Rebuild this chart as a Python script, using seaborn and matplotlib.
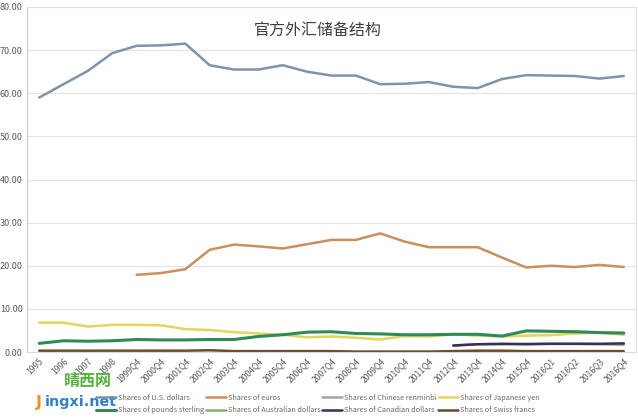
import numpy as np
import pandas as pd
import matplotlib
matplotlib.use("Agg")
import matplotlib.pyplot as plt
import seaborn as sns

nan = np.nan

periods = ["1995", "1996", "1997", "1998", "1999Q4", "2000Q4", "2001Q4", "2002Q4",
           "2003Q4", "2004Q4", "2005Q4", "2006Q4", "2007Q4", "2008Q4", "2009Q4",
           "2010Q4", "2011Q4", "2012Q4", "2013Q4", "2014Q4", "2015Q4", "2016Q1",
           "2016Q2", "2016Q3", "2016Q4"]

usd = [59.0, 62.1, 65.2, 69.3, 71.0, 71.1, 71.5, 66.5, 65.5, 65.5, 66.5, 65.0, 64.1,
       64.1, 62.1, 62.2, 62.6, 61.5, 61.2, 63.3, 64.2, 64.1, 64.0, 63.4, 64.0]
eur = [nan, nan, nan, nan, 17.9, 18.3, 19.2, 23.7, 24.9, 24.5, 24.0, 25.0, 26.0,
       26.0, 27.5, 25.6, 24.3, 24.3, 24.3, 21.9, 19.6, 20.0, 19.7, 20.2, 19.7]
cny = [nan] * 24 + [1.1]
jpy = [6.8, 6.8, 5.9, 6.3, 6.3, 6.2, 5.3, 5.1, 4.6, 4.3, 4.0, 3.4, 3.6, 3.3, 2.9,
       3.7, 3.6, 4.1, 3.8, 3.6, 3.8, 3.9, 4.3, 4.5, 4.0]
gbp = [2.0, 2.6, 2.5, 2.6, 2.9, 2.8, 2.8, 2.9, 2.9, 3.6, 4.0, 4.6, 4.7, 4.3, 4.2,
       4.0, 4.0, 4.1, 4.1, 3.7, 4.9, 4.8, 4.7, 4.5, 4.4]
aud = [nan] * 17 + [1.5, 1.8, 1.8, 1.9, 1.9, 1.9, 1.8, 1.7]
cad = [nan] * 17 + [1.5, 1.8, 1.9, 1.8, 1.9, 1.9, 1.9, 2.0]
chf = [0.3, 0.3, 0.3, 0.3, 0.3, 0.3, 0.3, 0.4, 0.2, 0.2, 0.2, 0.2, 0.2, 0.1, 0.1,
       0.1, 0.1, 0.2, 0.3, 0.3, 0.2, 0.2, 0.2, 0.2, 0.2]

names = ["Shares of U.S. dollars", "Shares of euros", "Shares of Chinese renminbi",
         "Shares of Japanese yen", "Shares of pounds sterling",
         "Shares of Australian dollars", "Shares of Canadian dollars",
         "Shares of Swiss francs"]
series = [usd, eur, cny, jpy, gbp, aud, cad, chf]
colors = ["#7f93aa", "#c98f5c", "#a5a5a5", "#e3d55a", "#2e8b57", "#7fb26a",
          "#3c2d5c", "#6b4a2b"]

x = np.arange(len(periods))
rows = []
for n, s in zip(names, series):
    for xi, v in zip(x, s):
        rows.append({"x": xi, "share": v, "currency": n})
df = pd.DataFrame(rows).dropna()

sns.set_style("white")
plt.rcParams["font.family"] = ["Noto Sans CJK SC", "DejaVu Sans"]

fig = plt.figure(figsize=(6.38, 4.20), dpi=100)
ax = fig.add_axes([27 / 638, 1 - 352 / 420, 609 / 638, 345 / 420])

# USD drawn last so it sits on top
draw_order = [n for n in names if n != "Shares of U.S. dollars"] + ["Shares of U.S. dollars"]
for n in draw_order:
    sub = df[df["currency"] == n]
    lw = 2.2 if n == "Shares of pounds sterling" else 1.8
    sns.lineplot(data=sub, x="x", y="share", color=colors[names.index(n)],
                 linewidth=lw, ax=ax, label=n, legend=False)

ax.set_xlim(-0.5, len(periods) - 0.5)
ax.set_ylim(0, 80)
ax.set_yticks(np.arange(0, 81, 10))
ax.set_yticklabels([f"{v:.2f}" for v in np.arange(0, 81, 10)], fontsize=6.5,
                   color="#595959")
ax.set_xticks(x)
ax.set_xticklabels(periods, rotation=45, ha="right", rotation_mode="anchor",
                   fontsize=6.2, color="#595959")
ax.tick_params(axis="both", length=0, pad=3)
ax.set_xlabel("")
ax.set_ylabel("")
ax.grid(axis="y", color="#e4e4e4", linewidth=0.8)
for side in ["top", "right"]:
    ax.spines[side].set_color("#e0e0e0")
ax.spines["left"].set_color("#c8c8c8")
ax.spines["bottom"].set_color("#d9d9d9")

ax.text(0.478, 0.93, "官方外汇储备结构", transform=ax.transAxes, ha="center",
        va="center", fontsize=11.5, color="#404040")

# legend: row-wise order for 4 columns
handles = {l.get_label(): l for l in ax.get_lines()}
order = [0, 4, 1, 5, 2, 6, 3, 7]
fig.legend([handles[names[i]] for i in order], [names[i] for i in order],
           loc="center", bbox_to_anchor=(318 / 638, 1 - 404 / 420), ncol=4,
           fontsize=5.3, frameon=False, handlelength=2.7, columnspacing=0.2,
           handletextpad=0.3, labelspacing=0.6, labelcolor="#6a6a6a")

# watermark
fig.text(64 / 638, 1 - 381 / 420, "晴西网", fontsize=11.5, color="#55b03a",
         va="center", ha="left", fontweight="bold")
fig.text(36 / 638, 1 - 402 / 420, "J", fontsize=11.5, color="#f0901e",
         va="center", ha="left", fontweight="bold", family="DejaVu Sans")
fig.text(45 / 638, 1 - 402 / 420, "ingxi.net", fontsize=10.3, color="#2f7fd0",
         va="center", ha="left", fontweight="bold", family="DejaVu Sans")

fig.savefig("out.png", dpi=100)
